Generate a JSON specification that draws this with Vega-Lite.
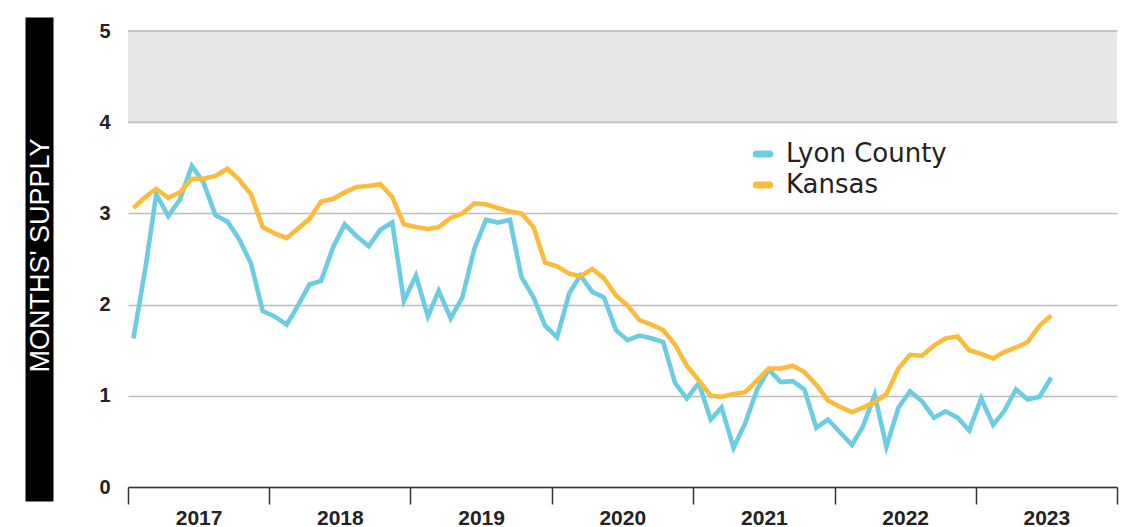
{
  "$schema": "https://vega.github.io/schema/vega-lite/v6.json",
  "width": 989,
  "height": 456,
  "autosize": "none",
  "padding": {"left": 128, "top": 31, "right": 5, "bottom": 40},
  "background": "white",
  "config": {"view": {"stroke": null}, "font": "Liberation Sans"},
  "data": {"values": [
    {"date": "2017-01-15", "Lyon County": 1.63, "Kansas": 3.06},
    {"date": "2017-02-15", "Lyon County": 2.40, "Kansas": 3.18},
    {"date": "2017-03-15", "Lyon County": 3.21, "Kansas": 3.27},
    {"date": "2017-04-15", "Lyon County": 2.97, "Kansas": 3.17},
    {"date": "2017-05-15", "Lyon County": 3.15, "Kansas": 3.23},
    {"date": "2017-06-15", "Lyon County": 3.52, "Kansas": 3.38},
    {"date": "2017-07-15", "Lyon County": 3.34, "Kansas": 3.38},
    {"date": "2017-08-15", "Lyon County": 2.98, "Kansas": 3.41},
    {"date": "2017-09-15", "Lyon County": 2.91, "Kansas": 3.49},
    {"date": "2017-10-15", "Lyon County": 2.72, "Kansas": 3.37},
    {"date": "2017-11-15", "Lyon County": 2.45, "Kansas": 3.21},
    {"date": "2017-12-15", "Lyon County": 1.93, "Kansas": 2.85},
    {"date": "2018-01-15", "Lyon County": 1.87, "Kansas": 2.78},
    {"date": "2018-02-15", "Lyon County": 1.78, "Kansas": 2.73},
    {"date": "2018-03-15", "Lyon County": 1.98, "Kansas": 2.83},
    {"date": "2018-04-15", "Lyon County": 2.22, "Kansas": 2.94},
    {"date": "2018-05-15", "Lyon County": 2.26, "Kansas": 3.13},
    {"date": "2018-06-15", "Lyon County": 2.63, "Kansas": 3.16},
    {"date": "2018-07-15", "Lyon County": 2.88, "Kansas": 3.23},
    {"date": "2018-08-15", "Lyon County": 2.75, "Kansas": 3.29},
    {"date": "2018-09-15", "Lyon County": 2.64, "Kansas": 3.30},
    {"date": "2018-10-15", "Lyon County": 2.82, "Kansas": 3.32},
    {"date": "2018-11-15", "Lyon County": 2.90, "Kansas": 3.18},
    {"date": "2018-12-15", "Lyon County": 2.04, "Kansas": 2.88},
    {"date": "2019-01-15", "Lyon County": 2.32, "Kansas": 2.85},
    {"date": "2019-02-15", "Lyon County": 1.87, "Kansas": 2.83},
    {"date": "2019-03-15", "Lyon County": 2.15, "Kansas": 2.85},
    {"date": "2019-04-15", "Lyon County": 1.85, "Kansas": 2.95},
    {"date": "2019-05-15", "Lyon County": 2.08, "Kansas": 3.00},
    {"date": "2019-06-15", "Lyon County": 2.61, "Kansas": 3.11},
    {"date": "2019-07-15", "Lyon County": 2.93, "Kansas": 3.10},
    {"date": "2019-08-15", "Lyon County": 2.90, "Kansas": 3.06},
    {"date": "2019-09-15", "Lyon County": 2.93, "Kansas": 3.02},
    {"date": "2019-10-15", "Lyon County": 2.30, "Kansas": 3.00},
    {"date": "2019-11-15", "Lyon County": 2.08, "Kansas": 2.85},
    {"date": "2019-12-15", "Lyon County": 1.77, "Kansas": 2.46},
    {"date": "2020-01-15", "Lyon County": 1.64, "Kansas": 2.42},
    {"date": "2020-02-15", "Lyon County": 2.12, "Kansas": 2.34},
    {"date": "2020-03-15", "Lyon County": 2.32, "Kansas": 2.31},
    {"date": "2020-04-15", "Lyon County": 2.14, "Kansas": 2.39},
    {"date": "2020-05-15", "Lyon County": 2.08, "Kansas": 2.29},
    {"date": "2020-06-15", "Lyon County": 1.72, "Kansas": 2.10},
    {"date": "2020-07-15", "Lyon County": 1.61, "Kansas": 1.99},
    {"date": "2020-08-15", "Lyon County": 1.66, "Kansas": 1.83},
    {"date": "2020-09-15", "Lyon County": 1.63, "Kansas": 1.78},
    {"date": "2020-10-15", "Lyon County": 1.59, "Kansas": 1.72},
    {"date": "2020-11-15", "Lyon County": 1.14, "Kansas": 1.56},
    {"date": "2020-12-15", "Lyon County": 0.97, "Kansas": 1.33},
    {"date": "2021-01-15", "Lyon County": 1.14, "Kansas": 1.17},
    {"date": "2021-02-15", "Lyon County": 0.74, "Kansas": 1.00},
    {"date": "2021-03-15", "Lyon County": 0.87, "Kansas": 0.99},
    {"date": "2021-04-15", "Lyon County": 0.43, "Kansas": 1.02},
    {"date": "2021-05-15", "Lyon County": 0.70, "Kansas": 1.04},
    {"date": "2021-06-15", "Lyon County": 1.07, "Kansas": 1.17},
    {"date": "2021-07-15", "Lyon County": 1.29, "Kansas": 1.30},
    {"date": "2021-08-15", "Lyon County": 1.15, "Kansas": 1.30},
    {"date": "2021-09-15", "Lyon County": 1.16, "Kansas": 1.33},
    {"date": "2021-10-15", "Lyon County": 1.07, "Kansas": 1.26},
    {"date": "2021-11-15", "Lyon County": 0.65, "Kansas": 1.12},
    {"date": "2021-12-15", "Lyon County": 0.74, "Kansas": 0.95},
    {"date": "2022-01-15", "Lyon County": 0.60, "Kansas": 0.88},
    {"date": "2022-02-15", "Lyon County": 0.46, "Kansas": 0.82},
    {"date": "2022-03-15", "Lyon County": 0.66, "Kansas": 0.87},
    {"date": "2022-04-15", "Lyon County": 1.01, "Kansas": 0.93},
    {"date": "2022-05-15", "Lyon County": 0.44, "Kansas": 1.02},
    {"date": "2022-06-15", "Lyon County": 0.87, "Kansas": 1.30},
    {"date": "2022-07-15", "Lyon County": 1.05, "Kansas": 1.45},
    {"date": "2022-08-15", "Lyon County": 0.94, "Kansas": 1.44},
    {"date": "2022-09-15", "Lyon County": 0.76, "Kansas": 1.55},
    {"date": "2022-10-15", "Lyon County": 0.83, "Kansas": 1.63},
    {"date": "2022-11-15", "Lyon County": 0.76, "Kansas": 1.65},
    {"date": "2022-12-15", "Lyon County": 0.62, "Kansas": 1.50},
    {"date": "2023-01-15", "Lyon County": 0.97, "Kansas": 1.46},
    {"date": "2023-02-15", "Lyon County": 0.68, "Kansas": 1.41},
    {"date": "2023-03-15", "Lyon County": 0.83, "Kansas": 1.48},
    {"date": "2023-04-15", "Lyon County": 1.07, "Kansas": 1.53},
    {"date": "2023-05-15", "Lyon County": 0.96, "Kansas": 1.59},
    {"date": "2023-06-15", "Lyon County": 0.99, "Kansas": 1.77},
    {"date": "2023-07-15", "Lyon County": 1.20, "Kansas": 1.88}
  ]},
  "resolve": {"axis": {"y": "independent"}},
  "layer": [
    {
      "data": {"values": [{"lo": 4, "hi": 5}]},
      "mark": {"type": "rect", "color": "#e6e7e9"},
      "encoding": {
        "y": {
          "field": "lo", "type": "quantitative",
          "scale": {"domain": [0, 5], "nice": false},
          "axis": {
            "orient": "left", "offset": 89,
            "domain": true, "domainColor": "#000000", "domainWidth": 28, "domainCap": "square",
            "labels": false, "ticks": false, "grid": false,
            "title": "MONTHS' SUPPLY", "titleColor": "#ffffff", "titleFontSize": 27,
            "titleFontWeight": "normal", "titleFont": "Liberation Sans",
            "titleAngle": -90, "titleX": 1, "titleY": 224,
            "titleAlign": "center", "titleBaseline": "middle"
          }
        },
        "y2": {"field": "hi"}
      }
    },
    {
      "data": {"values": [{"g": 4}, {"g": 5}]},
      "mark": {"type": "rule", "color": "#bdbdbd", "strokeWidth": 1.3},
      "encoding": {
        "y": {"field": "g", "type": "quantitative", "axis": null}
      }
    },
    {
      "transform": [{"fold": ["Lyon County", "Kansas"], "as": ["series", "value"]}],
      "mark": {"type": "line", "strokeWidth": 4.6},
      "encoding": {
        "x": {
          "field": "date", "type": "temporal",
          "scale": {"type": "utc", "domain": [
            {"year": 2017, "month": 1, "date": 1, "utc": true},
            {"year": 2024, "month": 1, "date": 1, "utc": true}
          ]},
          "axis": {
            "values": [
              {"year": 2017, "month": 1, "date": 1, "utc": true},
              {"year": 2018, "month": 1, "date": 1, "utc": true},
              {"year": 2019, "month": 1, "date": 1, "utc": true},
              {"year": 2020, "month": 1, "date": 1, "utc": true},
              {"year": 2021, "month": 1, "date": 1, "utc": true},
              {"year": 2022, "month": 1, "date": 1, "utc": true},
              {"year": 2023, "month": 1, "date": 1, "utc": true},
              {"year": 2024, "month": 1, "date": 1, "utc": true}
            ],
            "format": "%Y",
            "labelExpr": "datum.label == '2024' ? '' : datum.label",
            "labelOffset": 70.6,
            "labelFlush": false,
            "labelOverlap": false,
            "labelBound": false,
            "tickSize": 17, "tickWidth": 1.5, "tickColor": "#333333",
            "domainColor": "#333333", "domainWidth": 1.5,
            "labelFontSize": 21, "labelFontWeight": "bold", "labelColor": "#222222",
            "labelPadding": 3, "grid": false, "title": null
          }
        },
        "y": {
          "field": "value", "type": "quantitative",
          "scale": {"domain": [0, 5], "nice": false},
          "axis": {
            "orient": "left", "values": [0, 1, 2, 3, 4, 5],
            "grid": true, "gridColor": "#bdbdbd", "gridWidth": 1.3,
            "domain": false, "ticks": false,
            "labelPadding": 18, "labelFontSize": 20, "labelFontWeight": "bold",
            "labelColor": "#222222", "title": null
          }
        },
        "color": {
          "field": "series", "type": "nominal",
          "scale": {"domain": ["Lyon County", "Kansas"], "range": ["#6ccde2", "#fbbb3b"]},
          "legend": {
            "orient": "none", "legendX": 622, "legendY": 110,
            "title": null, "symbolType": "stroke", "symbolStrokeWidth": 7, "symbolSize": 180,
            "labelFontSize": 26, "labelFont": "DejaVu Sans", "labelColor": "#222222",
            "labelLimit": 0,
            "rowPadding": 3, "labelOffset": 10, "padding": 0,
            "symbolLimit": 0,
            "encode": {"symbols": {"update": {"strokeCap": {"value": "round"}}}}
          }
        }
      }
    }
  ]
}
